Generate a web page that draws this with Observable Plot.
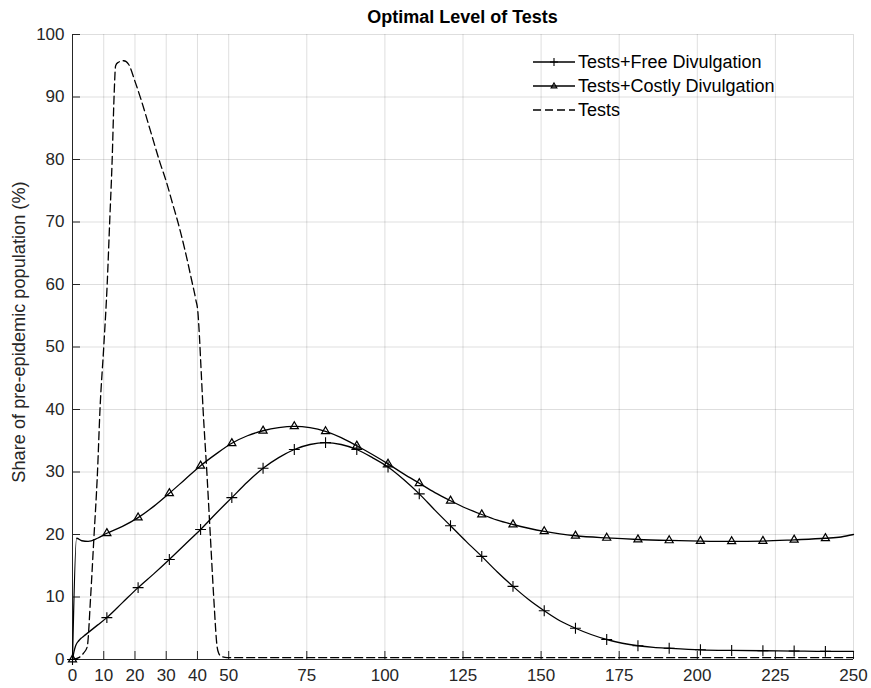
<!DOCTYPE html>
<html><head><meta charset="utf-8">
<script src="https://cdn.jsdelivr.net/npm/d3@7"></script>
<script src="https://cdn.jsdelivr.net/npm/@observablehq/plot@0.6"></script>
<style>
body{margin:0;background:#fff;font-family:"Liberation Sans",Arial,sans-serif;}
#wrap{position:relative;width:871px;height:688px;}
#title{position:absolute;left:72px;width:781px;top:6px;text-align:center;font-weight:bold;font-size:18px;line-height:22px;color:#000;}
#ylabel{position:absolute;left:-181px;top:321px;width:400px;height:22px;line-height:22px;text-align:center;font-size:18.2px;color:#262626;transform:rotate(-90deg);transform-origin:50% 50%;white-space:nowrap;}
#legend{position:absolute;left:532px;top:50px;}
.row{display:flex;align-items:center;height:24px;font-size:18px;color:#000;}
.row svg{display:block;margin-right:2px;}
</style></head><body>
<div id="wrap"><div id="title"></div><div id="ylabel"></div><div id="legend"></div></div>
<script>
const titleText = "Optimal Level of Tests";
const yLabel = "Share of pre-epidemic population (%)";
const seriesNames = ["Tests+Free Divulgation", "Tests+Costly Divulgation", "Tests"];
const xTicks = [0,10,20,30,40,50,75,100,125,150,175,200,225,250];
const yTicks = [0,10,20,30,40,50,60,70,80,90,100];
const markerDays = [0,11,21,31,41,51,61,71,81,91,101,111,121,131,141,151,161,171,181,191,201,211,221,231,241];

const freeX = [0,0.5,1,2,3,4,6,8,11,16,21,26,31,36,41,46,51,56,61,66,71,76,81,86,91,96,101,106,111,116,121,126,131,136,141,146,151,156,161,166,171,176,181,186,191,201,211,221,231,241,250];
const freeY = [0,1.3,2.2,3.0,3.5,3.9,4.7,5.5,6.7,9.1,11.5,13.7,16.0,18.4,20.8,23.4,25.9,28.4,30.6,32.3,33.6,34.4,34.7,34.4,33.6,32.3,30.8,28.8,26.5,23.9,21.4,18.9,16.5,14.0,11.7,9.6,7.8,6.2,5.0,4.0,3.2,2.6,2.2,1.95,1.8,1.55,1.45,1.4,1.35,1.3,1.3];

const costlyX = [0,1.3,3,5,8,11,16,21,26,31,36,41,46,51,56,61,66,71,76,81,86,91,96,101,106,111,116,121,126,131,136,141,146,151,156,161,171,181,191,201,211,221,231,241,246,250];
const costlyY = [0,19.4,19.0,18.9,19.4,20.2,21.3,22.7,24.5,26.6,28.8,31.0,32.9,34.6,35.8,36.6,37.1,37.3,37.1,36.5,35.5,34.2,32.8,31.3,29.7,28.2,26.7,25.4,24.2,23.2,22.3,21.6,21.0,20.5,20.1,19.8,19.45,19.2,19.05,18.95,18.9,18.95,19.15,19.4,19.6,20.0];

const testsX = [0,2,3.5,4.7,5.8,6.8,8.0,8.8,10.0,11.1,11.9,12.7,13.3,13.8,14.5,16.4,18,20,22,25,28,30,32,34,36,38,39.5,40.1,40.6,41.1,41.8,43.0,44.1,45.2,46.3,46.8,47.6,49.5,250];
const testsY = [0,0.3,1.0,2.0,10,19,30,40,50,60,70,80,90,95,95.5,95.8,95.2,92.5,89.5,84.5,79.5,76.5,73,69.5,65.5,61,57.5,55.8,52,47,40,30,20,10,2,1,0.5,0.3,0.3];

const free = freeX.map((x,i)=>({x, y: freeY[i]}));
const costly = costlyX.map((x,i)=>({x, y: costlyY[i]}));
const tests = testsX.map((x,i)=>({x, y: testsY[i]}));
const freeM = free.filter(d => markerDays.includes(d.x));
const costlyM = costly.filter(d => markerDays.includes(d.x));

const ink = "#262626";
const plot = Plot.plot({
  width: 871, height: 688,
  marginLeft: 72, marginRight: 18, marginTop: 34, marginBottom: 29,
  x: {type: "linear", domain: [0, 250]},
  y: {type: "linear", domain: [0, 100]},
  style: {fontFamily: "'Liberation Sans', Arial, sans-serif", fontSize: "17px", color: ink, background: "#fff", overflow: "visible"},
  marks: [
    Plot.gridX(xTicks, {stroke: "#000", strokeOpacity: 0.13}),
    Plot.gridY(yTicks, {stroke: "#000", strokeOpacity: 0.13}),
    Plot.axisX(xTicks, {tickSize: -8, tickPadding: 17, label: null, stroke: ink, fill: ink, tickFormat: d => String(d)}),
    Plot.axisY(yTicks, {tickSize: -8, tickPadding: 16, label: null, stroke: ink, fill: ink, tickFormat: d => String(d)}),
    Plot.ruleX([0], {stroke: ink}),
    Plot.ruleY([0], {stroke: ink}),
    Plot.line(tests, {x: "x", y: "y", stroke: "#000", strokeWidth: 1.3, strokeDasharray: "8,4", curve: "monotone-x"}),
    Plot.line(costly, {x: "x", y: "y", stroke: "#000", strokeWidth: 1.3, curve: "monotone-x"}),
    Plot.line(free, {x: "x", y: "y", stroke: "#000", strokeWidth: 1.3, curve: "monotone-x"}),
    Plot.dot(costlyM, {x: "x", y: "y", symbol: "triangle", r: 3, stroke: "#000", fill: "none", strokeWidth: 1.2}),
    Plot.dot(freeM, {x: "x", y: "y", symbol: "plus", r: 3.6, stroke: "#000", strokeWidth: 1.1})
  ]
});
document.getElementById("wrap").appendChild(plot);
document.getElementById("title").textContent = titleText;
document.getElementById("ylabel").textContent = yLabel;

const legend = document.getElementById("legend");
const styles = [
  {dash: null, marker: "plus"},
  {dash: null, marker: "triangle"},
  {dash: "8,4", marker: null}
];
seriesNames.forEach((name, i) => {
  const row = document.createElement("div");
  row.className = "row";
  const s = styles[i];
  let svg = `<svg width="44" height="24"><line x1="1" y1="12" x2="43" y2="12" stroke="#000" stroke-width="1.3"${s.dash ? ` stroke-dasharray="${s.dash}"` : ""}/>`;
  if (s.marker === "plus") svg += `<path d="M22,8V16M18,12H26" stroke="#000" stroke-width="1.1"/>`;
  if (s.marker === "triangle") svg += `<path d="M22,9L24.8,13.8H19.2Z" fill="none" stroke="#000" stroke-width="1.2"/>`;
  svg += `</svg>`;
  row.innerHTML = svg + `<span>${name}</span>`;
  legend.appendChild(row);
});
</script>
</body></html>
